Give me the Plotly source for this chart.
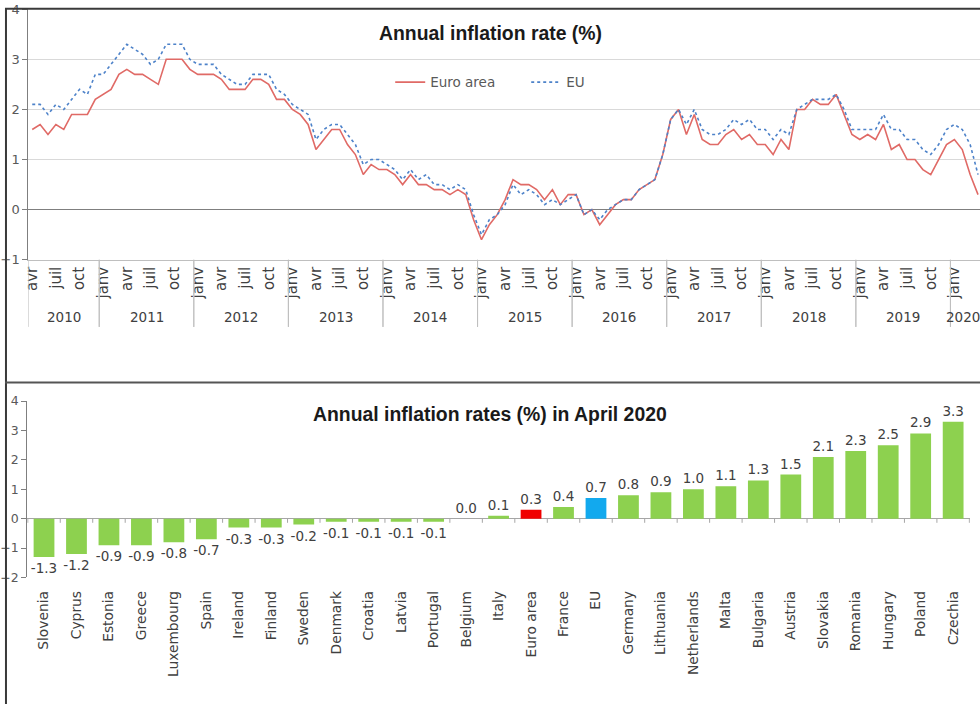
import plotly.graph_objects as go

# ---------------- DATA ----------------
start_year = 2010
start_month = 4  # April 2010
month_names = ["janv", "févr", "mars", "avr", "mai", "juin",
               "juil", "août", "sept", "oct", "nov", "déc"]
labelled_months = [1, 4, 7, 10]

euro_area = [
    # 2010 (Apr-Dec)
    1.6, 1.7, 1.5, 1.7, 1.6, 1.9, 1.9, 1.9, 2.2,
    # 2011
    2.3, 2.4, 2.7, 2.8, 2.7, 2.7, 2.6, 2.5, 3.0, 3.0, 3.0, 2.8,
    # 2012
    2.7, 2.7, 2.7, 2.6, 2.4, 2.4, 2.4, 2.6, 2.6, 2.5, 2.2, 2.2,
    # 2013
    2.0, 1.9, 1.7, 1.2, 1.4, 1.6, 1.6, 1.3, 1.1, 0.7, 0.9, 0.8,
    # 2014
    0.8, 0.7, 0.5, 0.7, 0.5, 0.5, 0.4, 0.4, 0.3, 0.4, 0.3, -0.2,
    # 2015
    -0.6, -0.3, -0.1, 0.2, 0.6, 0.5, 0.5, 0.4, 0.2, 0.4, 0.1, 0.3,
    # 2016
    0.3, -0.1, 0.0, -0.3, -0.1, 0.1, 0.2, 0.2, 0.4, 0.5, 0.6, 1.1,
    # 2017
    1.8, 2.0, 1.5, 1.9, 1.4, 1.3, 1.3, 1.5, 1.6, 1.4, 1.5, 1.3,
    # 2018
    1.3, 1.1, 1.4, 1.2, 2.0, 2.0, 2.2, 2.1, 2.1, 2.3, 1.9, 1.5,
    # 2019
    1.4, 1.5, 1.4, 1.7, 1.2, 1.3, 1.0, 1.0, 0.8, 0.7, 1.0, 1.3,
    # 2020 (Jan-Apr)
    1.4, 1.2, 0.7, 0.3,
]

eu = [
    # 2010 (Apr-Dec)
    2.1, 2.1, 1.9, 2.1, 2.0, 2.2, 2.4, 2.3, 2.7,
    # 2011
    2.7, 2.9, 3.1, 3.3, 3.2, 3.1, 2.9, 3.0, 3.3, 3.3, 3.3, 3.0,
    # 2012
    2.9, 2.9, 2.9, 2.7, 2.6, 2.5, 2.5, 2.7, 2.7, 2.7, 2.4, 2.3,
    # 2013
    2.1, 2.0, 1.9, 1.4, 1.6, 1.7, 1.7, 1.5, 1.3, 0.9, 1.0, 1.0,
    # 2014
    0.9, 0.8, 0.6, 0.8, 0.6, 0.7, 0.5, 0.5, 0.4, 0.5, 0.4, -0.1,
    # 2015
    -0.5, -0.2, -0.1, 0.1, 0.5, 0.3, 0.4, 0.3, 0.1, 0.2, 0.1, 0.2,
    # 2016
    0.3, -0.1, 0.0, -0.2, 0.0, 0.1, 0.2, 0.2, 0.4, 0.5, 0.6, 1.1,
    # 2017
    1.8, 2.0, 1.7, 2.0, 1.6, 1.5, 1.5, 1.6, 1.8, 1.7, 1.8, 1.6,
    # 2018
    1.6, 1.4, 1.6, 1.5, 2.0, 2.1, 2.2, 2.2, 2.2, 2.3, 2.0, 1.6,
    # 2019
    1.6, 1.6, 1.6, 1.9, 1.6, 1.6, 1.4, 1.4, 1.2, 1.1, 1.3, 1.6,
    # 2020 (Jan-Apr)
    1.7, 1.6, 1.3, 0.7,
]

countries = ["Slovenia", "Cyprus", "Estonia", "Greece", "Luxembourg", "Spain",
             "Ireland", "Finland", "Sweden", "Denmark", "Croatia", "Latvia",
             "Portugal", "Belgium", "Italy", "Euro area", "France", "EU",
             "Germany", "Lithuania", "Netherlands", "Malta", "Bulgaria",
             "Austria", "Slovakia", "Romania", "Hungary", "Poland", "Czechia"]
rates_april_2020 = [-1.3, -1.2, -0.9, -0.9, -0.8, -0.7, -0.3, -0.3, -0.2, -0.1,
                    -0.1, -0.1, -0.1, 0.0, 0.1, 0.3, 0.4, 0.7, 0.8, 0.9, 1.0,
                    1.1, 1.3, 1.5, 2.1, 2.3, 2.5, 2.9, 3.3]

title_top = "Annual inflation rate (%)"
title_bottom = "Annual inflation rates (%) in April 2020"

# ---------------- DERIVED ----------------
n = len(euro_area)
idx = list(range(n))
periods = [(start_year + (start_month - 1 + i) // 12, (start_month - 1 + i) % 12 + 1)
           for i in idx]
tickvals = [i for i, (y, m) in zip(idx, periods) if m in labelled_months]
ticktext = [month_names[periods[i][1] - 1] for i in tickvals]
years = sorted(set(y for y, m in periods))
year_first = {yr: min(i for i, (y, m) in zip(idx, periods) if y == yr) for yr in years}
year_last = {yr: max(i for i, (y, m) in zip(idx, periods) if y == yr) for yr in years}

# page geometry: body keeps an 8px margin and the captured page is rescaled
BODY = 8
W, H = 985, 712
SX = 980 / (W + BODY)
SY = 711 / (H + 2 * BODY + 1)
def px(x):
    return min(1.0, max(0.0, (x / SX - BODY) / W))
def py(y):
    return min(1.0, max(0.0, 1 - (y / SY - BODY) / H))

GREEN, RED, BLUE = "#8DD14F", "#F00000", "#12A9EE"
bar_colors = [RED if c == "Euro area" else BLUE if c == "EU" else GREEN for c in countries]

FONT = "DejaVu Sans"
TFONT = "Liberation Sans, Arial"

fig = go.Figure()
fig.add_trace(go.Scatter(x=idx, y=euro_area, mode="lines", name="Euro area",
                         line=dict(color="#E06A66", width=1.6),
                         xaxis="x", yaxis="y"))
fig.add_trace(go.Scatter(x=idx, y=eu, mode="lines", name="EU",
                         line=dict(color="#4D82C9", width=1.6, dash="dot"),
                         xaxis="x", yaxis="y"))
fig.add_trace(go.Bar(x=countries, y=rates_april_2020, marker=dict(color=bar_colors, line_width=0),
                     texttemplate="%{y:.1f}", textposition="outside", constraintext="none",
                     textfont=dict(family=FONT, size=13.5, color="#404040"),
                     cliponaxis=False, showlegend=False,
                     xaxis="x2", yaxis="y2"))

y2min, y2max = -2, 4
y2dom = [py(576), py(400)]

shapes = []
# year separators in the top chart's category area
for yr in years:
    for b in (year_first[yr] - 0.5, year_last[yr] + 0.5):
        shapes.append(dict(type="line", xref="x", yref="paper", x0=b, x1=b,
                           y0=py(259), y1=py(326), line=dict(color="#BFBFBF", width=1)))
# category boundary ticks on the bar chart's zero line
for k in range(len(countries) + 1):
    shapes.append(dict(type="line", xref="x2", yref="y2", x0=k - 0.5, x1=k - 0.5,
                       y0=0, y1=-0.14, line=dict(color="#A6A6A6", width=1)))
# frame
shapes += [
    dict(type="line", xref="paper", yref="paper", x0=0, x1=px(979), y0=0.999, y1=0.999,
         line=dict(color="#3A3A3A", width=2)),
    dict(type="line", xref="paper", yref="paper", x0=0.001, x1=0.001, y0=0, y1=1,
         line=dict(color="#3A3A3A", width=2)),
    dict(type="line", xref="paper", yref="paper", x0=px(978), x1=px(978), y0=0, y1=1,
         line=dict(color="#555555", width=1.5)),
    dict(type="line", xref="paper", yref="paper", x0=0, x1=px(979), y0=py(381.5), y1=py(381.5),
         line=dict(color="#555555", width=2)),
]

annotations = [
    dict(text=title_top, xref="paper", yref="paper", x=px(489), y=py(33),
         xanchor="center", yanchor="middle", showarrow=False,
         font=dict(family=TFONT, size=19.4, color="#1A1A1A", weight="bold")),
    dict(text=title_bottom, xref="paper", yref="paper", x=px(489), y=py(413),
         xanchor="center", yanchor="middle", showarrow=False,
         font=dict(family=TFONT, size=19.4, color="#1A1A1A", weight="bold")),
]
for yr in years:
    last = yr == years[-1]
    annotations.append(dict(text=str(yr), xref="x", yref="paper",
                            x=(year_last[yr] + 0.5) if last else (year_first[yr] + year_last[yr]) / 2,
                            y=py(316),
                            xanchor="right" if last else "center", yanchor="middle",
                            showarrow=False,
                            font=dict(family=FONT, size=13.5, color="#404040")))

fig.update_layout(
    width=W, height=H, autosize=False,
    margin=dict(l=0, r=0, t=0, b=0),
    paper_bgcolor="white", plot_bgcolor="white",
    font=dict(family=FONT, color="#595959"),
    shapes=shapes, annotations=annotations,
    bargap=0.36,
    legend=dict(orientation="h", x=px(390), y=py(82), xanchor="left", yanchor="middle",
                font=dict(family=FONT, size=13.5, color="#595959"),
                bgcolor="rgba(0,0,0,0)", itemwidth=30,
                entrywidth=91, entrywidthmode="pixels"),
    xaxis=dict(domain=[px(31), px(977)], range=[-0.5, n - 0.5], anchor="y",
               tickmode="array", tickvals=tickvals, ticktext=ticktext, tickangle=-90,
               tickfont=dict(family=FONT, size=15, color="#404040"),
               showgrid=False, zeroline=False, showline=True, linecolor="#BFBFBF",
               ticks=""),
    yaxis=dict(domain=[py(259), py(9)], range=[-1, 4], dtick=1, anchor="x",
               showgrid=True, gridcolor="#D9D9D9", zeroline=True,
               zerolinecolor="#7F7F7F", zerolinewidth=1,
               showline=True, linecolor="#7F7F7F", ticks="outside", ticklen=5,
               tickcolor="#7F7F7F", tickfont=dict(family=FONT, size=13, color="#595959")),
    xaxis2=dict(domain=[px(30), px(965)], type="category", anchor="y2",
                tickangle=-90, tickfont=dict(family=FONT, size=13.8, color="#404040"),
                showgrid=False, zeroline=False, showline=False,
                ticks="outside", ticklen=7, tickcolor="rgba(0,0,0,0)"),
    yaxis2=dict(domain=y2dom, range=[y2min, y2max], dtick=1, anchor="x2",
                showgrid=False, zeroline=True, zerolinecolor="#A6A6A6", zerolinewidth=1,
                showline=True, linecolor="#7F7F7F",
                ticks="outside", ticklen=5, tickcolor="#7F7F7F",
                tickfont=dict(family=FONT, size=12.5, color="#595959")),
)

fig.write_html("out.html")
